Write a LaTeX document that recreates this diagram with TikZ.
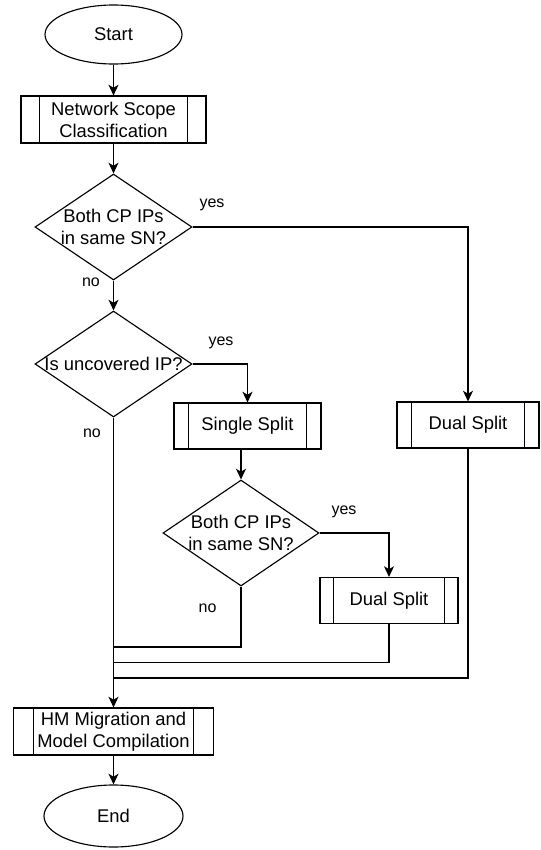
\documentclass[tikz,border=0pt]{standalone}
\usepackage{fontspec}
\setmainfont{Liberation Sans}
\usetikzlibrary{shapes.geometric,arrows.meta,calc}
\begin{document}
\begin{tikzpicture}[x=0.75pt,y=-0.75pt,
  every node/.style={font=\fontsize{13.8}{16.5}\selectfont, align=center, inner sep=0pt},
  line/.style={draw=black, line width=0.85pt},
  arr/.style={line, -{Stealth[length=8pt,width=7.5pt,inset=2.2pt]}},
  termbox/.style={draw, ellipse, line width=0.85pt, minimum width=#1},
  decbox/.style={draw, diamond, line width=0.85pt, minimum width=#1, minimum height=79.5pt},
  procbox/.style={draw, rectangle, line width=0.85pt, minimum width=#1,
    path picture={
      \draw[line width=0.85pt] ($(path picture bounding box.north west)!0.1!(path picture bounding box.north east)$) -- ($(path picture bounding box.south west)!0.1!(path picture bounding box.south east)$);
      \draw[line width=0.85pt] ($(path picture bounding box.north west)!0.9!(path picture bounding box.north east)$) -- ($(path picture bounding box.south west)!0.9!(path picture bounding box.south east)$);
    }},
  lbl/.style={font=\fontsize{12}{14}\selectfont}
]
\useasboundingbox (0,0) rectangle (540,850);

\node[termbox=102.75pt, minimum height=44.25pt] (start) at (113.5,34.5) {Start};
\node[procbox=138.75pt, minimum height=35.25pt] (nsc) at (113.5,119.5) {Network Scope\\Classification};
\node[decbox=117.75pt, label={[align=center]center:Both CP IPs\\in same SN?}] (d1) at (113.5,227) {};
\node[decbox=117.75pt, label={[align=center]center:Is uncovered IP?}] (d2) at (113.5,364) {};
\node[procbox=110.25pt, minimum height=34.5pt] (ss) at (247.5,426) {Single Split};
\node[decbox=117pt, label={[align=center]center:Both CP IPs\\in same SN?}] (d3) at (241,533) {};
\node[procbox=106.5pt, minimum height=34.5pt] (ds1) at (468,425) {Dual Split};
\node[procbox=103.5pt, minimum height=34.5pt] (ds2) at (389,600.5) {Dual Split};
\node[procbox=150pt, minimum height=35.25pt] (hm) at (113.5,731.5) {HM Migration and\\Model Compilation};
\node[termbox=104.25pt, minimum height=46.5pt] (end) at (113.5,816) {End};

\coordinate (j1) at (113.5,647);
\coordinate (j2) at (113.5,662.5);
\coordinate (j3) at (113.5,678);

\draw[arr] (start.south) -- (nsc.north);
\draw[arr] (nsc.south) -- (d1.north);
\draw[arr] (d1.south) -- (d2.north);
\draw[arr] (d1.east) -| (ds1.north);
\draw[arr] (d2.east) -| (ss.north);
\draw[arr] (ss.south -| d3.north) -- (d3.north);
\draw[arr] (d3.east) -| (ds2.north);
\draw[line] (d3.south) |- (j1);
\draw[line] (ds2.south) |- (j2);
\draw[line] (ds1.south) |- (j3);
\draw[arr] (d2.south) -- (hm.north);
\draw[arr] (hm.south) -- (end.north);

\node[lbl] (y1) at (212,205) {yes};
\node[lbl] (n1) at (91,282) {no};
\node[lbl] (y2) at (221,343) {yes};
\node[lbl] (n2) at (92,433) {no};
\node[lbl] (y3) at (344,512) {yes};
\node[lbl] (n3) at (207.5,608) {no};
\end{tikzpicture}
\end{document}
